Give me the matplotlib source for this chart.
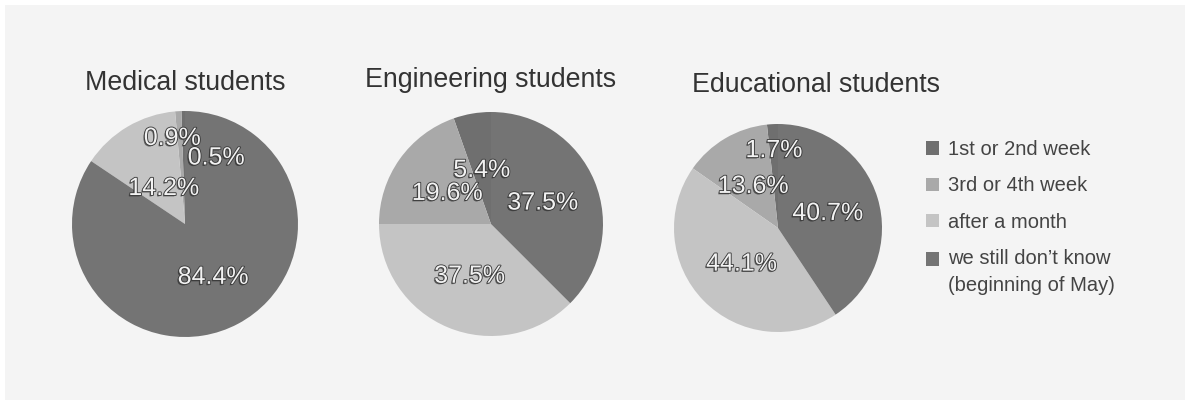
import matplotlib
matplotlib.use("Agg")
import matplotlib.pyplot as plt
import matplotlib.patheffects as pe
from matplotlib.patches import Patch, Rectangle
import numpy as np

plt.rcParams['font.family'] = ['Liberation Sans', 'DejaVu Sans']

# data (pies run counterclockwise from 12 o'clock, in legend order)
categories = ['1st or 2nd week', '3rd or 4th week', 'after a month',
              'we still don\u2019t know\n(beginning of May)']
titles = ['Medical students', 'Engineering students', 'Educational students']
medical = [0.5, 0.9, 14.2, 84.4]
engineering = [5.4, 19.6, 37.5, 37.5]
educational = [1.7, 13.6, 44.1, 40.7]
colors = ['#6f6f6f', '#a9a9a9', '#c4c4c4', '#747474']

W, H = 1190, 405
fig = plt.figure(figsize=(W / 100, H / 100), dpi=100, facecolor='white')
fig.patches.append(Rectangle((5 / W, 5 / H), 1180 / W, 395 / H,
                             transform=fig.transFigure, facecolor='#f4f4f4',
                             edgecolor='none', zorder=-10))

# pie centres / radii in pixels, title anchors
pies = [
    dict(vals=medical, cx=185, cy=224, r=113, tx=185, ty=83,
         lab_r=[0.65, 0.77, 0.37, 0.53], lab_da=[-26, 5, 0, 0]),
    dict(vals=engineering, cx=491, cy=224, r=112, tx=491, ty=80,
         lab_r=[0.49, 0.48, 0.5, 0.5], lab_da=[0, 0, 0, 0]),
    dict(vals=educational, cx=778, cy=228, r=104, tx=816, ty=85,
         lab_r=[0.75, 0.47, 0.49, 0.5], lab_da=[0, 0, 0, 0]),
]

label_fx = [pe.withSimplePatchShadow(offset=(-1, -1), shadow_rgbFace='#222222', alpha=0.6),
            pe.Stroke(linewidth=1.3, foreground='#3c3c3c'), pe.Normal()]

for p, title in zip(pies, titles):
    ax = fig.add_axes([(p['cx'] - p['r']) / W, (H - p['cy'] - p['r']) / H,
                       2 * p['r'] / W, 2 * p['r'] / H])
    vals = p['vals']
    wedges, _ = ax.pie(vals, colors=colors, startangle=90, counterclock=True,
                       wedgeprops=dict(linewidth=0))
    ax.set_xlim(-1, 1)
    ax.set_ylim(-1, 1)
    ax.set_aspect('equal')
    ax.axis('off')

    for w, v, lr, da in zip(wedges, vals, p['lab_r'], p['lab_da']):
        ang = np.deg2rad((w.theta1 + w.theta2) / 2 + da)
        ax.text(lr * np.cos(ang), lr * np.sin(ang), f'{v}%', ha='center',
                va='center', fontsize=18, color='#f2f2f2', path_effects=label_fx)

    fig.text(p['tx'] / W, 1 - p['ty'] / H, title, ha='center', va='center',
             fontsize=19.3, color='#333333')

handles = [Patch(facecolor=c, edgecolor='none') for c in colors]
leg = fig.legend(handles, categories, loc='upper left',
                 bbox_to_anchor=(918 / W, 1 - 132 / H), frameon=False,
                 fontsize=14.5, labelcolor='#444444', handlelength=0.65,
                 handleheight=0.65, handletextpad=0.45, labelspacing=0.86,
                 borderaxespad=0)
for t in leg.get_texts():
    t.set_linespacing(1.55)

# two-line entry: put its square next to the first line
last = leg.legend_handles[-1]
last.set_y(last.get_y() + 9.8)

fig.savefig('out.png', dpi=100, facecolor='white')
